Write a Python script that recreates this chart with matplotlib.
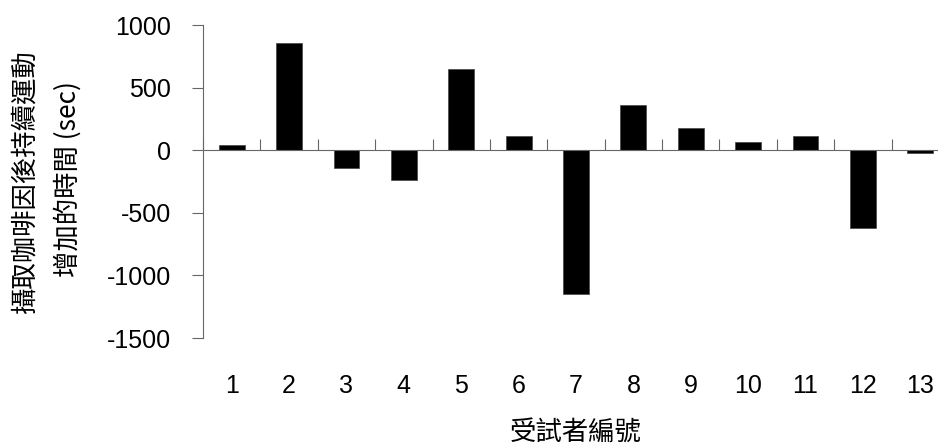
import numpy as np
import matplotlib.pyplot as plt

plt.rcParams['font.family'] = ['Liberation Sans', 'Noto Sans CJK TC', 'DejaVu Sans']
plt.rcParams['axes.unicode_minus'] = False

# subjects and the change in exercise time after caffeine (sec)
subjects = np.arange(1, 14)
subject_labels = [str(s) for s in subjects]
time_change = [40, 855, -145, -240, 645, 110, -1145, 360, 175, 65, 110, -625, -20]

y_ticks = [-1500, -1000, -500, 0, 500, 1000]

ylabel_line1 = '攝取咖啡因後持續運動'
ylabel_line2 = '增加的時間 (sec)'
xlabel = '受試者編號'

axis_gray = '#666666'
cjk = ['Noto Sans CJK TC', 'Liberation Sans']

fig = plt.figure(figsize=(9.38, 4.45), dpi=100)
ax = fig.add_axes([203/938, 107/445, 746/938, 313/445])

ax.bar(subjects, time_change, width=0.45, color='black',
       edgecolor='#444444', linewidth=0.5, zorder=3)

ax.set_xlim(0.5, len(subjects) + 0.5)
ax.set_ylim(-1500, 1000)
ax.set_yticks(y_ticks)
ax.set_xticks(subjects, subject_labels)

for side in ['top', 'right', 'bottom']:
    ax.spines[side].set_visible(False)
ax.spines['left'].set_color(axis_gray)
ax.spines['left'].set_linewidth(0.8)

ax.tick_params(axis='y', direction='out', length=8, width=0.8, color=axis_gray,
               pad=15, labelsize=18)
ax.tick_params(axis='x', length=0, pad=26, labelsize=18)

# zero line with category boundary ticks
ax2 = ax.twiny()
ax2.set_xlim(ax.get_xlim())
for side in ['top', 'right', 'left']:
    ax2.spines[side].set_visible(False)
ax2.spines['bottom'].set_position(('data', 0))
ax2.spines['bottom'].set_color(axis_gray)
ax2.spines['bottom'].set_linewidth(0.8)
ax2.xaxis.set_ticks_position('bottom')
ax2.set_xticks(np.arange(0.5, len(subjects) + 1, 1.0))
ax2.tick_params(axis='x', direction='in', length=8, width=0.8, color=axis_gray,
                labelbottom=False, labeltop=False)
ax2.set_zorder(ax.get_zorder() + 1)
ax2.patch.set_visible(False)

fig.text(25/938, 1 - 181/445, ylabel_line1, rotation=90, ha='center', va='center',
         fontsize=19, family=cjk)
fig.text(68/938, 1 - 179/445, ylabel_line2, rotation=90, ha='center', va='center',
         fontsize=19, family=cjk)
fig.text(576/938, 1 - 432/445, xlabel, ha='center', va='center',
         fontsize=19, family=cjk)

fig.savefig('out.png', dpi=100)
